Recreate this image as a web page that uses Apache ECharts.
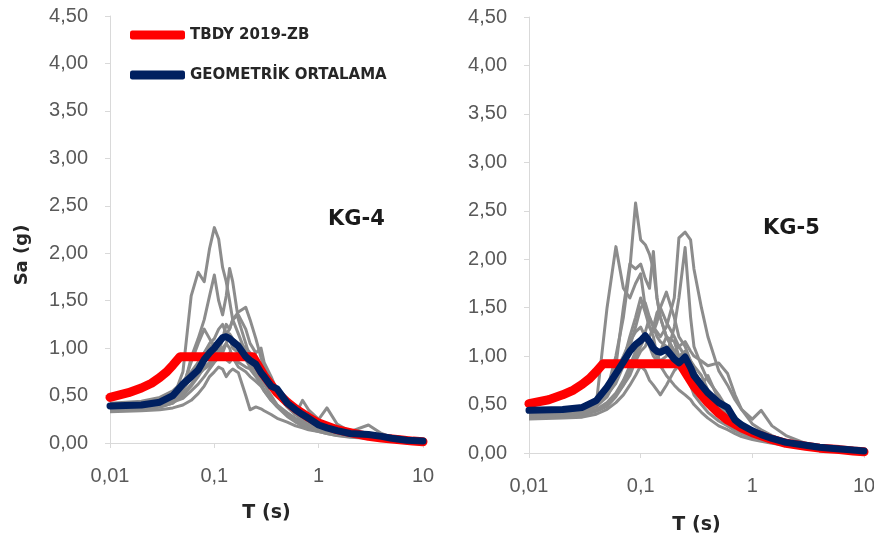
<!DOCTYPE html>
<html>
<head>
<meta charset="utf-8">
<script src="https://cdn.jsdelivr.net/npm/echarts@6/dist/echarts.min.js"></script>
<style>
  html, body { margin: 0; padding: 0; background: #fff; }
  #chart { width: 874px; height: 534px; }
</style>
</head>
<body>
<div id="chart"></div>
<script>
// periods (s) shared by records and mean curves
var periods = [0.01, 0.02, 0.03, 0.04, 0.05, 0.06, 0.07, 0.08, 0.09, 0.1, 0.11, 0.12, 0.13, 0.14, 0.15, 0.17, 0.2, 0.22, 0.25, 0.28, 0.3, 0.35, 0.4, 0.5, 0.6, 0.7, 0.8, 1.0, 1.2, 1.5, 2, 3, 4, 5, 7, 10];

// TBDY 2019 design spectrum (ZB)
var tbdyT_KG4 = [0.01, 0.015, 0.02, 0.025, 0.03, 0.035, 0.04, 0.047, 0.1, 0.234, 0.3, 0.4, 0.5, 0.6, 0.8, 1, 1.5, 2, 3, 4, 6, 8, 10];
var tbdySa_KG4 = [0.48, 0.53, 0.58, 0.63, 0.69, 0.75, 0.82, 0.91, 0.91, 0.91, 0.71, 0.53, 0.43, 0.36, 0.27, 0.21, 0.14, 0.11, 0.07, 0.053, 0.035, 0.02, 0.013];
var tbdyT_KG5 = [0.01, 0.015, 0.02, 0.025, 0.03, 0.035, 0.04, 0.046, 0.1, 0.225, 0.3, 0.4, 0.5, 0.6, 0.8, 1, 1.5, 2, 3, 4, 6, 8, 10];
var tbdySa_KG5 = [0.51, 0.55, 0.60, 0.65, 0.71, 0.77, 0.84, 0.92, 0.92, 0.92, 0.69, 0.52, 0.41, 0.34, 0.26, 0.21, 0.14, 0.10, 0.07, 0.05, 0.035, 0.02, 0.012];

// geometric mean
var meanKG4 = [0.39, 0.40, 0.43, 0.50, 0.62, 0.70, 0.77, 0.88, 0.95, 1.00, 1.06, 1.11, 1.12, 1.10, 1.07, 1.02, 0.91, 0.87, 0.83, 0.74, 0.70, 0.60, 0.57, 0.42, 0.35, 0.30, 0.26, 0.19, 0.16, 0.13, 0.10, 0.09, 0.07, 0.05, 0.03, 0.02];
var meanKG5 = [0.44, 0.45, 0.47, 0.54, 0.68, 0.82, 0.94, 1.05, 1.12, 1.16, 1.21, 1.15, 1.08, 1.05, 1.04, 1.07, 0.97, 0.93, 0.99, 0.88, 0.80, 0.70, 0.62, 0.52, 0.47, 0.34, 0.29, 0.23, 0.19, 0.15, 0.11, 0.08, 0.06, 0.05, 0.035, 0.02];

// individual records, KG-4
var recKG4 = [
  [0.36, 0.37, 0.40, 0.46, 0.75, 1.55, 1.80, 1.70, 2.05, 2.27, 2.15, 1.85, 1.70, 1.50, 1.30, 1.15, 0.95, 0.85, 0.75, 0.62, 0.55, 0.45, 0.38, 0.28, 0.22, 0.18, 0.15, 0.12, 0.10, 0.08, 0.06, 0.05, 0.04, 0.03, 0.02, 0.01],
  [0.34, 0.35, 0.38, 0.42, 0.55, 0.90, 1.10, 1.30, 1.55, 1.77, 1.50, 1.35, 1.55, 1.84, 1.70, 1.30, 1.05, 0.90, 0.80, 0.70, 0.62, 0.50, 0.40, 0.30, 0.24, 0.20, 0.16, 0.13, 0.11, 0.09, 0.07, 0.05, 0.04, 0.03, 0.02, 0.01],
  [0.38, 0.39, 0.42, 0.46, 0.55, 0.70, 0.85, 0.95, 1.05, 1.10, 1.20, 1.25, 1.15, 1.20, 1.30, 1.38, 1.43, 1.30, 1.10, 0.90, 0.80, 0.62, 0.50, 0.38, 0.30, 0.45, 0.35, 0.25, 0.37, 0.20, 0.12, 0.19, 0.10, 0.06, 0.04, 0.02],
  [0.40, 0.42, 0.45, 0.50, 0.58, 0.68, 0.80, 0.95, 1.00, 1.05, 0.95, 1.10, 1.25, 1.20, 1.30, 1.35, 1.20, 1.05, 0.95, 1.00, 0.85, 0.70, 0.55, 0.45, 0.35, 0.28, 0.24, 0.18, 0.15, 0.12, 0.09, 0.07, 0.05, 0.04, 0.03, 0.02],
  [0.42, 0.44, 0.48, 0.55, 0.65, 0.75, 0.85, 0.90, 0.95, 1.00, 1.05, 1.10, 1.15, 1.10, 1.00, 0.95, 0.90, 0.85, 0.80, 0.72, 0.68, 0.60, 0.58, 0.42, 0.34, 0.30, 0.25, 0.19, 0.16, 0.13, 0.10, 0.08, 0.06, 0.05, 0.03, 0.02],
  [0.35, 0.36, 0.38, 0.42, 0.50, 0.60, 0.70, 0.80, 0.85, 0.90, 0.95, 0.88, 0.90, 0.95, 0.92, 0.85, 0.80, 0.78, 0.70, 0.62, 0.56, 0.48, 0.40, 0.32, 0.26, 0.22, 0.18, 0.14, 0.12, 0.10, 0.08, 0.06, 0.05, 0.04, 0.03, 0.02],
  [0.33, 0.34, 0.35, 0.37, 0.40, 0.45, 0.52, 0.60, 0.70, 0.75, 0.80, 0.78, 0.70, 0.75, 0.78, 0.74, 0.50, 0.35, 0.38, 0.36, 0.34, 0.30, 0.26, 0.22, 0.18, 0.16, 0.14, 0.12, 0.10, 0.08, 0.07, 0.05, 0.04, 0.03, 0.02, 0.01],
  [0.37, 0.38, 0.40, 0.43, 0.47, 0.55, 0.62, 0.70, 0.78, 0.85, 0.90, 1.00, 1.05, 1.15, 1.10, 1.05, 1.00, 0.95, 0.85, 0.75, 0.70, 0.62, 0.50, 0.40, 0.32, 0.27, 0.22, 0.17, 0.14, 0.11, 0.09, 0.07, 0.05, 0.04, 0.03, 0.02],
  [0.39, 0.40, 0.43, 0.48, 0.60, 0.85, 1.05, 1.20, 1.10, 1.00, 0.90, 0.95, 1.05, 1.00, 0.90, 0.80, 0.75, 0.70, 0.65, 0.60, 0.55, 0.45, 0.40, 0.30, 0.25, 0.21, 0.18, 0.14, 0.12, 0.10, 0.08, 0.06, 0.05, 0.04, 0.03, 0.02],
  [0.36, 0.37, 0.40, 0.44, 0.52, 0.62, 0.72, 0.78, 0.82, 0.86, 0.90, 0.92, 0.88, 0.85, 0.90, 0.93, 0.88, 0.80, 0.72, 0.65, 0.62, 0.60, 0.55, 0.38, 0.30, 0.24, 0.20, 0.16, 0.13, 0.11, 0.09, 0.07, 0.05, 0.04, 0.03, 0.02]
];

// individual records, KG-5
var recKG5 = [
  [0.40, 0.41, 0.43, 0.48, 0.65, 1.00, 1.40, 1.90, 2.58, 2.20, 2.15, 2.05, 1.90, 1.60, 1.40, 1.20, 1.05, 0.95, 0.85, 0.70, 0.60, 0.50, 0.42, 0.33, 0.28, 0.23, 0.20, 0.16, 0.14, 0.11, 0.08, 0.06, 0.05, 0.04, 0.03, 0.02],
  [0.38, 0.39, 0.42, 0.50, 1.50, 2.13, 1.70, 1.60, 1.75, 1.85, 1.50, 1.30, 1.20, 1.00, 0.90, 0.80, 0.70, 0.65, 0.60, 0.55, 0.50, 0.42, 0.36, 0.28, 0.24, 0.20, 0.17, 0.14, 0.12, 0.10, 0.08, 0.06, 0.05, 0.04, 0.03, 0.02],
  [0.37, 0.38, 0.40, 0.44, 0.50, 0.60, 0.70, 0.80, 0.95, 1.05, 1.10, 1.20, 1.30, 1.25, 1.20, 1.30, 1.60, 2.22, 2.28, 2.20, 1.90, 1.50, 1.20, 0.85, 0.70, 0.55, 0.45, 0.30, 0.24, 0.18, 0.12, 0.08, 0.06, 0.05, 0.03, 0.02],
  [0.36, 0.37, 0.39, 0.43, 0.48, 0.58, 0.70, 0.85, 1.00, 1.10, 1.20, 1.15, 1.05, 1.00, 0.95, 1.00, 1.30, 1.60, 2.12, 1.40, 1.10, 0.90, 0.75, 0.60, 0.45, 0.35, 0.30, 0.22, 0.18, 0.14, 0.10, 0.07, 0.05, 0.04, 0.03, 0.02],
  [0.42, 0.43, 0.46, 0.52, 0.62, 0.90, 1.50, 1.95, 1.90, 1.95, 1.80, 1.70, 2.08, 1.60, 1.40, 1.20, 1.05, 0.95, 0.85, 0.75, 0.70, 0.60, 0.50, 0.40, 0.32, 0.26, 0.22, 0.17, 0.14, 0.11, 0.08, 0.06, 0.05, 0.04, 0.03, 0.02],
  [0.39, 0.40, 0.43, 0.48, 0.58, 0.75, 0.95, 1.20, 1.40, 1.60, 1.45, 1.30, 1.25, 1.35, 1.50, 1.66, 1.40, 1.20, 1.10, 0.95, 0.85, 0.70, 0.80, 0.55, 0.45, 0.38, 0.30, 0.24, 0.20, 0.15, 0.11, 0.08, 0.06, 0.05, 0.03, 0.02],
  [0.44, 0.45, 0.48, 0.55, 0.70, 0.85, 1.00, 1.15, 1.25, 1.30, 1.20, 1.10, 1.00, 0.95, 1.05, 1.20, 1.15, 1.00, 1.05, 0.95, 0.90, 0.80, 0.65, 0.50, 0.42, 0.36, 0.30, 0.24, 0.20, 0.16, 0.12, 0.08, 0.06, 0.05, 0.04, 0.02],
  [0.35, 0.36, 0.37, 0.40, 0.45, 0.52, 0.60, 0.70, 0.80, 0.90, 0.85, 0.75, 0.70, 0.65, 0.60, 0.70, 0.85, 0.90, 0.95, 0.80, 0.70, 0.60, 0.55, 0.50, 0.42, 0.35, 0.28, 0.20, 0.16, 0.13, 0.10, 0.07, 0.05, 0.04, 0.03, 0.02],
  [0.38, 0.39, 0.41, 0.45, 0.52, 0.62, 0.75, 0.90, 1.05, 1.15, 1.25, 1.40, 1.30, 1.20, 1.15, 1.10, 1.05, 1.10, 1.15, 1.05, 1.00, 0.95, 0.90, 0.93, 0.82, 0.60, 0.45, 0.35, 0.44, 0.28, 0.18, 0.10, 0.07, 0.05, 0.03, 0.02],
  [0.41, 0.42, 0.45, 0.50, 0.60, 0.72, 0.90, 1.10, 1.30, 1.50, 1.55, 1.40, 1.30, 1.45, 1.50, 1.35, 1.20, 1.10, 1.00, 0.90, 0.85, 0.72, 0.60, 0.48, 0.38, 0.32, 0.26, 0.20, 0.17, 0.13, 0.10, 0.07, 0.05, 0.04, 0.03, 0.02]
];

var numFont = 'Liberation Sans';
var boldFont = 'DejaVu Sans';

function pairs(xs, ys) {
    return xs.map(function (x, i) { return [x, ys[i]]; });
}

function xLabel(v) {
    return String(+(+v).toPrecision(3)).replace('.', ',');
}

function yLabel(v) {
    return v.toFixed(2).replace('.', ',');
}

function makeX(gi, gap) {
    return {
        type: 'log', logBase: 10, gridIndex: gi, min: 0.01, max: 10,
        name: 'T (s)', nameLocation: 'middle', nameGap: gap,
        nameTextStyle: { fontFamily: boldFont, fontWeight: 'bold', fontSize: 19, color: '#262626' },
        axisLine: { show: true, lineStyle: { color: '#d9d9d9', width: 1 } },
        axisTick: { show: true, length: 5, lineStyle: { color: '#d9d9d9' } },
        minorTick: { show: false },
        splitLine: { show: false },
        axisLabel: { margin: 23, fontFamily: numFont, fontSize: 20, color: '#595959', formatter: xLabel }
    };
}

function makeY(gi) {
    return {
        type: 'value', gridIndex: gi, min: 0, max: 4.5, interval: 0.5,
        axisLine: { show: true, lineStyle: { color: '#d9d9d9', width: 1 } },
        axisTick: { show: true, length: 5, lineStyle: { color: '#d9d9d9' } },
        splitLine: { show: false },
        axisLabel: { margin: 22, fontFamily: numFont, fontSize: 20, color: '#595959', formatter: yLabel }
    };
}

var series = [];
recKG4.forEach(function (r, i) {
    series.push({ name: 'KG4-' + (i + 1), type: 'line', xAxisIndex: 0, yAxisIndex: 0, data: pairs(periods, r),
        symbol: 'none', color: '#8c8c8c', lineStyle: { width: 3, color: '#8c8c8c', join: 'round' }, z: 1 });
});
recKG5.forEach(function (r, i) {
    series.push({ name: 'KG5-' + (i + 1), type: 'line', xAxisIndex: 1, yAxisIndex: 1, data: pairs(periods, r),
        symbol: 'none', color: '#8c8c8c', lineStyle: { width: 3, color: '#8c8c8c', join: 'round' }, z: 1 });
});
series.push({ name: 'TBDY 2019-ZB', type: 'line', xAxisIndex: 0, yAxisIndex: 0, data: pairs(tbdyT_KG4, tbdySa_KG4),
    symbol: 'none', color: '#ff0000', lineStyle: { width: 9, color: '#ff0000', join: 'round', cap: 'round' }, z: 3 });
series.push({ name: 'TBDY 2019-ZB', type: 'line', xAxisIndex: 1, yAxisIndex: 1, data: pairs(tbdyT_KG5, tbdySa_KG5),
    symbol: 'none', color: '#ff0000', lineStyle: { width: 9, color: '#ff0000', join: 'round', cap: 'round' }, z: 3 });
series.push({ name: 'GEOMETRİK ORTALAMA', type: 'line', xAxisIndex: 0, yAxisIndex: 0, data: pairs(periods, meanKG4),
    symbol: 'none', color: '#002060', lineStyle: { width: 7, color: '#002060', join: 'round', cap: 'round' }, z: 4 });
series.push({ name: 'GEOMETRİK ORTALAMA', type: 'line', xAxisIndex: 1, yAxisIndex: 1, data: pairs(periods, meanKG5),
    symbol: 'none', color: '#002060', lineStyle: { width: 7, color: '#002060', join: 'round', cap: 'round' }, z: 4 });

var option = {
    animation: false,
    backgroundColor: '#ffffff',
    grid: [
        { left: 110, right: 451, top: 16, bottom: 91, outerBoundsMode: 'none' },
        { left: 529, right: 10, top: 17, bottom: 81, outerBoundsMode: 'none' }
    ],
    xAxis: [makeX(0, 61), makeX(1, 63)],
    yAxis: [makeY(0), makeY(1)],
    legend: {
        data: ['TBDY 2019-ZB', 'GEOMETRİK ORTALAMA'],
        orient: 'vertical', left: 130, top: 26, padding: 0,
        icon: 'roundRect', itemWidth: 55, itemHeight: 9, itemGap: 22,
        selectedMode: false,
        textStyle: { fontFamily: boldFont, fontWeight: 'bold', fontSize: 15, lineHeight: 18, color: '#262626' }
    },
    graphic: [
        { type: 'text', left: 328, top: 209, style: { text: 'KG-4', font: 'bold 21px "DejaVu Sans"', fill: '#1a1a1a' } },
        { type: 'text', left: 763, top: 218, style: { text: 'KG-5', font: 'bold 21px "DejaVu Sans"', fill: '#1a1a1a' } },
        { type: 'text', x: 22, y: 255, rotation: Math.PI / 2,
          style: { text: 'Sa (g)', font: 'bold 18px "DejaVu Sans"', fill: '#262626', align: 'center', verticalAlign: 'middle' } }
    ],
    series: series
};

var chart = echarts.init(document.getElementById('chart'));
chart.setOption(option);
</script>
</body>
</html>
